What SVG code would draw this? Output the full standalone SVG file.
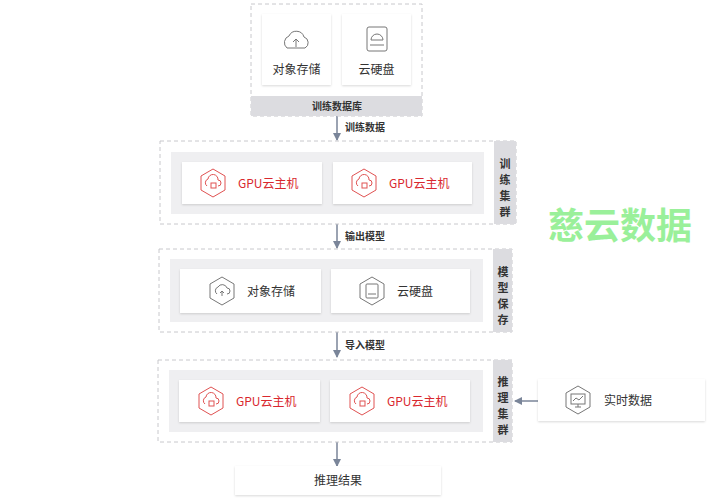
<svg xmlns="http://www.w3.org/2000/svg" width="725" height="500" viewBox="0 0 725 500">
<style>
text{font-family:"Noto Sans CJK SC","Liberation Sans",sans-serif}
.dash{fill:#fff;stroke:#c8c8cc;stroke-dasharray:4 3;stroke-width:1}
.inner{fill:#efeff1}
.strip{fill:#dcdce0}
.card{fill:#fff;filter:url(#sh)}
.t{font-size:12px;fill:#333}
.r{font-size:12px;fill:#d9282f}
.b{font-size:10px;font-weight:bold;fill:#333}
.v{font-size:11px;font-weight:bold;fill:#333}
.ic{fill:none;stroke:#777;stroke-width:1}
.icr{fill:none;stroke:#e05252;stroke-width:1}
.ln{stroke:#7a8599;stroke-width:1.5;fill:none;marker-end:url(#ar)}
</style>
<defs>
<filter id="sh" x="-10%" y="-10%" width="120%" height="130%"><feDropShadow dx="0" dy="1" stdDeviation="1" flood-color="#000" flood-opacity="0.15"/></filter>
<marker id="ar" markerWidth="8" markerHeight="8" refX="7" refY="4" orient="auto" markerUnits="userSpaceOnUse"><path d="M0,0 L8,4 L0,8 z" fill="#7a8599"/></marker>
<g id="hexg"><polygon points="0,-14 12,-7 12,7 0,14 -12,7 -12,-7" class="ic"/></g>
<g id="hexr"><polygon points="0,-14 12,-7 12,7 0,14 -12,7 -12,-7" class="icr"/><path d="M-6,3 a4,4 0 0 1 1,-7 a5,5 0 0 1 10,1 a3,3 0 0 1 0,6" class="icr"/><rect x="-2" y="0" width="5" height="5" class="icr"/></g>
</defs>
<text x="548" y="239" font-size="36" font-weight="bold" fill="#9af09a">慈云数据</text>
<g id="connectors">
<line x1="337" y1="116" x2="337" y2="140" class="ln"/>
<text x="345" y="131" class="b">训练数据</text>
<line x1="337" y1="224" x2="337" y2="248" class="ln"/>
<text x="345" y="240" class="b">输出模型</text>
<line x1="337" y1="332" x2="337" y2="357" class="ln"/>
<text x="345" y="349" class="b">导入模型</text>
<line x1="337" y1="442" x2="337" y2="466" class="ln"/>
<line x1="538" y1="401" x2="515" y2="401" class="ln"/>
</g>
<g id="db">
<rect x="251" y="4" width="171" height="112" class="dash"/>
<rect x="251" y="96" width="171" height="20" class="strip"/>
<text x="337" y="110" class="b" text-anchor="middle">训练数据库</text>
<rect x="262" y="14" width="69" height="71" class="card"/>
<path d="M287,48 a7,7 0 0 1 2,-12 a8,8 0 0 1 15,1 a6,6 0 0 1 1,11 z" class="ic"/><path d="M296,47 v-8 m-3,3 l3,-3 l3,3" class="ic"/>
<text x="296.5" y="74" class="t" text-anchor="middle" font-size="11">对象存储</text>
<rect x="342" y="14" width="69" height="71" class="card"/>
<rect x="367" y="27" width="20" height="24" rx="2" class="ic"/><path d="M370,45 h14 M371,40 a6,6 0 0 1 12,0 z" class="ic"/>
<text x="376.5" y="74" class="t" text-anchor="middle" font-size="11">云硬盘</text>
</g>
<g id="train">
<rect x="160" y="141" width="356" height="83" class="dash"/>
<rect x="494" y="141" width="22" height="83" class="strip"/>
<text class="v" text-anchor="middle"><tspan x="505" y="168">训</tspan><tspan x="505" y="184">练</tspan><tspan x="505" y="200">集</tspan><tspan x="505" y="216">群</tspan></text>
<rect x="171" y="152" width="313" height="62" class="inner"/>
<rect x="182" y="162" width="140" height="42" class="card"/>
<use href="#hexr" x="213" y="183"/><text x="238" y="188" class="r">GPU云主机</text>
<rect x="333" y="162" width="139" height="42" class="card"/>
<use href="#hexr" x="364" y="183"/><text x="389" y="188" class="r">GPU云主机</text>
</g>
<g id="save">
<rect x="159" y="249" width="353" height="83" class="dash"/>
<rect x="493" y="249" width="19" height="83" class="strip"/>
<text class="v" text-anchor="middle"><tspan x="503" y="276">模</tspan><tspan x="503" y="292">型</tspan><tspan x="503" y="308">保</tspan><tspan x="503" y="324">存</tspan></text>
<rect x="170" y="259" width="313" height="63" class="inner"/>
<rect x="180" y="269" width="141" height="44" class="card"/>
<use href="#hexg" x="222" y="291"/><path d="M217,294 a4,4 0 0 1 1,-7 a5,5 0 0 1 9,1 a3,3 0 0 1 0,6 M222,296 v-5 m-2,2 l2,-2 l2,2" class="ic"/>
<text x="247" y="296" class="t">对象存储</text>
<rect x="331" y="269" width="139" height="44" class="card"/>
<use href="#hexg" x="372" y="291"/><rect x="366" y="284" width="12" height="14" rx="1" class="ic"/><path d="M368,294 h8" class="ic"/>
<text x="397" y="296" class="t">云硬盘</text>
</g>
<g id="infer">
<rect x="158" y="360" width="354" height="82" class="dash"/>
<rect x="493" y="360" width="19" height="82" class="strip"/>
<text class="v" text-anchor="middle"><tspan x="503" y="386">推</tspan><tspan x="503" y="402">理</tspan><tspan x="503" y="418">集</tspan><tspan x="503" y="434">群</tspan></text>
<rect x="169" y="370" width="314" height="62" class="inner"/>
<rect x="179" y="380" width="141" height="42" class="card"/>
<use href="#hexr" x="211" y="401"/><text x="236" y="406" class="r">GPU云主机</text>
<rect x="330" y="380" width="140" height="42" class="card"/>
<use href="#hexr" x="362" y="401"/><text x="387" y="406" class="r">GPU云主机</text>
</g>
<g id="realtime">
<rect x="538" y="379" width="167" height="42" class="card"/>
<use href="#hexg" x="578" y="400"/><rect x="571" y="394" width="14" height="10" class="ic"/><path d="M578,404 v3 m-3,0 h6 M573,401 l3,-3 l3,2 l4,-4" class="ic"/>
<text x="604" y="405" class="t">实时数据</text>
</g>
<g id="result">
<rect x="235" y="466" width="206" height="29" class="card"/>
<text x="338" y="485" class="t" text-anchor="middle">推理结果</text>
</g>
</svg>
